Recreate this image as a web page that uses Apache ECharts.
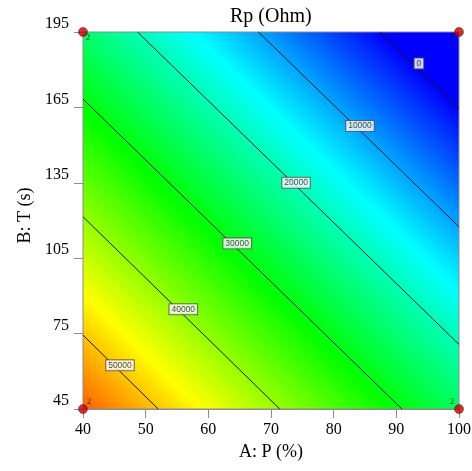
<!DOCTYPE html>
<html>
<head>
<meta charset="utf-8">
<title>Rp (Ohm)</title>
<script src="https://cdn.jsdelivr.net/npm/echarts@6.0.0/dist/echarts.min.js"></script>
<style>
  html, body { margin: 0; padding: 0; background: #fff; }
  #chart { width: 472px; height: 471px; }
</style>
</head>
<body>
<div id="chart"></div>
<script>
// design points (corners of the factorial) and the response read at them
var factorA = [40, 100, 40, 100];        // A: P (%)
var factorB = [45, 45, 195, 195];        // B: T (s)
var rpValue = [56200, 25400, 24400, -6500];
var replicates = [2, 2, 2, 2];

// contour levels, with where each line meets the plot border
var levels = [0, 10000, 20000, 30000, 40000, 50000];
var contourStart = [[87.4, 195], [68.0, 195], [48.7, 195], [40, 168.3], [40, 121.5], [40, 74.4]];
var contourEnd = [[100, 164.5], [100, 117.5], [100, 70.7], [90.9, 45], [71.4, 45], [52.0, 45]];
var labelAt = [[93.6, 182.5], [84.2, 157.6], [74.0, 135.0], [64.6, 110.9], [56.0, 84.7], [45.9, 62.4]];

// colour map of the response
var colorValues = [0, 15500, 31000, 46500, 62000];
var colorList = ['#0000ff', '#00ffff', '#00ff00', '#ffff00', '#ff0000'];

// tick labels
var xTicks = [40, 50, 60, 70, 80, 90, 100];
var yTicks = [45, 75, 105, 135, 165, 195];

(function () {
    var myChart = echarts.init(document.getElementById('chart'));

    var serif = 'Liberation Serif, Times New Roman, serif';
    var grey = '#8c8c8c';

    // smooth colour field: linear in the design corners, drawn through the axes
    function renderField(params, api) {
        var p00 = api.coord([factorA[0], factorB[0]]);
        var p10 = api.coord([factorA[1], factorB[1]]);
        var p01 = api.coord([factorA[2], factorB[2]]);
        var gx = (rpValue[1] - rpValue[0]) / (p10[0] - p00[0]);
        var gy = (rpValue[2] - rpValue[0]) / (p01[1] - p00[1]);
        var g2 = gx * gx + gy * gy;
        function at(v) {
            var t = (v - rpValue[0]) / g2;
            return [p00[0] + t * gx, p00[1] + t * gy];
        }
        var lo = colorValues[0], hi = colorValues[colorValues.length - 1];
        var a = at(lo), b = at(hi);
        var stops = colorValues.map(function (v, i) {
            return { offset: (v - lo) / (hi - lo), color: colorList[i] };
        });
        return {
            type: 'rect',
            shape: { x: p01[0], y: p01[1], width: p10[0] - p01[0], height: p10[1] - p01[1] },
            style: {
                fill: new echarts.graphic.LinearGradient(a[0], a[1], b[0], b[1], stops, true),
                stroke: grey,
                lineWidth: 1
            }
        };
    }

    var labelOffsets = [[6, -7], [-7, -7], [5, 6], [-7, 5]];

    var option = {
        animation: false,
        title: {
            text: 'Rp (Ohm)',
            left: 230,
            top: 7,
            padding: 0,
            textStyle: { fontFamily: serif, fontSize: 20, fontWeight: 'normal', color: '#000' }
        },
        grid: { left: 83, right: 13, top: 32, bottom: 62, outerBoundsMode: 'none' },
        xAxis: {
            type: 'value',
            min: xTicks[0],
            max: xTicks[xTicks.length - 1],
            interval: 10,
            name: 'A: P (%)',
            nameLocation: 'middle',
            nameGap: 34,
            nameTextStyle: { fontFamily: serif, fontSize: 18, color: '#000' },
            axisLine: { show: true, lineStyle: { color: grey } },
            axisTick: { show: true, length: 9, lineStyle: { color: grey } },
            axisLabel: { margin: 13, fontFamily: serif, fontSize: 16, color: '#000' },
            splitLine: { show: false }
        },
        yAxis: {
            type: 'value',
            min: yTicks[0],
            max: yTicks[yTicks.length - 1],
            name: 'B: T (s)',
            nameLocation: 'middle',
            nameRotate: 90,
            nameGap: 47,
            nameTextStyle: { fontFamily: serif, fontSize: 18, color: '#000', padding: [0, 0, 0, 10] },
            axisLine: { show: true, lineStyle: { color: grey } },
            axisTick: { show: true, length: 9, customValues: yTicks, lineStyle: { color: grey } },
            axisLabel: {
                margin: 14, customValues: yTicks, verticalAlign: 'bottom',
                fontFamily: serif, fontSize: 16, color: '#000'
            },
            splitLine: { show: false }
        },
        series: [
            {
                type: 'custom',
                coordinateSystem: 'cartesian2d',
                silent: true,
                z: 1,
                data: [[factorA[0], factorB[0], rpValue[0]]],
                renderItem: renderField
            },
            {
                type: 'lines',
                coordinateSystem: 'cartesian2d',
                silent: true,
                z: 3,
                lineStyle: { color: '#1a1a1a', width: 1, opacity: 1 },
                data: levels.map(function (lv, i) {
                    return { coords: [contourStart[i], contourEnd[i]] };
                })
            },
            {
                type: 'scatter',
                silent: true,
                z: 4,
                symbolSize: 1,
                itemStyle: { color: 'rgba(0,0,0,0)' },
                label: {
                    show: true,
                    position: 'inside',
                    formatter: function (p) { return String(p.value[2]); },
                    fontFamily: 'Liberation Sans, Arial, sans-serif',
                    fontSize: 8.5,
                    lineHeight: 8,
                    color: '#222',
                    textBorderWidth: 0,
                    backgroundColor: '#fff',
                    borderColor: '#555',
                    borderWidth: 1,
                    padding: [1, 2]
                },
                data: levels.map(function (lv, i) {
                    return [labelAt[i][0], labelAt[i][1], lv];
                })
            },
            {
                type: 'scatter',
                silent: true,
                clip: false,
                z: 5,
                symbolSize: 9,
                itemStyle: { color: '#c00000', borderColor: '#6a0000', borderWidth: 0.6 },
                label: {
                    show: true,
                    position: 'inside',
                    formatter: function (p) { return String(replicates[p.dataIndex]); },
                    fontFamily: serif,
                    fontSize: 9,
                    color: '#111',
                    textBorderWidth: 0
                },
                data: factorA.map(function (a, i) {
                    return {
                        value: [a, factorB[i], rpValue[i]],
                        label: { offset: labelOffsets[i] }
                    };
                })
            }
        ]
    };

    myChart.setOption(option);
    window.addEventListener('resize', function () {
        myChart.resize();
    });
})();
</script>
</body>
</html>
